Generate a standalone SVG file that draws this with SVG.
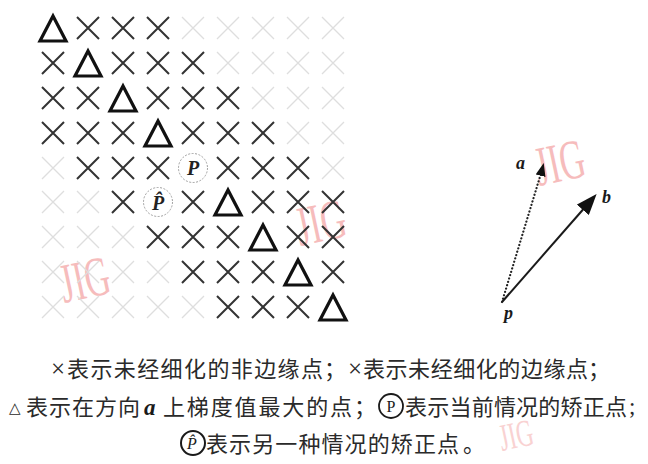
<svg xmlns="http://www.w3.org/2000/svg" width="648" height="464" viewBox="0 0 648 464">
<style>
.bg{fill:#ffffff}
.dx{stroke:#333;stroke-width:2;fill:none;stroke-linecap:butt}
.fx{stroke:#dedede;stroke-width:1.3;fill:none}
.tri{stroke:#111;stroke-width:3.2;fill:none;stroke-linejoin:miter}
.pc{stroke:#a0a0a0;stroke-width:1;fill:#fff;stroke-dasharray:2 1.5}
.pl{font-family:"Liberation Serif",serif;font-style:italic;font-weight:bold;font-size:20px;fill:#222;text-anchor:middle}
.wm{font-family:"Liberation Serif",serif;font-size:56px;fill:#f4a6a6;opacity:0.75}
.cap{font-family:"Liberation Serif","Noto Sans CJK SC",sans-serif;font-size:22px;fill:#2a2a2a}
.vl{font-family:"Liberation Serif",serif;font-style:italic;font-weight:bold;font-size:18px;fill:#1a1a1a}
.arw{stroke:#1a1a1a;stroke-width:2;fill:none}
.dot{stroke:#222;stroke-width:2.2;fill:none;stroke-dasharray:0.1 3.4;stroke-linecap:round}
</style>
<defs>
<path id="x" d="M-11,-11 L11,11 M11,-11 L-11,11"/>
<polygon id="t" points="0,-12.5 -13,12.5 13,12.5"/>
<marker id="hb" markerWidth="22" markerHeight="16" refX="17" refY="8" orient="auto" markerUnits="userSpaceOnUse"><path d="M0,0 L21,8 L0,16 Z" fill="#111"/></marker>
<marker id="ha" markerWidth="14" markerHeight="10" refX="10" refY="5" orient="auto" markerUnits="userSpaceOnUse"><path d="M0,0 L13,5 L0,10 Z" fill="#111"/></marker>
</defs>
<rect class="bg" x="0" y="0" width="648" height="464"/>

<!-- watermarks -->
<g id="watermarks">
<text class="wm" transform="translate(64,303) rotate(-12) scale(0.62,1)">JIG</text>
<text class="wm" transform="translate(300,246) rotate(-12) scale(0.62,1)">JIG</text>
<text class="wm" transform="translate(539,186) rotate(-12) scale(0.62,1)">JIG</text>
<text class="wm" transform="translate(502,451) rotate(-12) scale(0.62,1)" style="font-size:38px;opacity:0.5">JIG</text>
</g>

<!-- faint (edge) crosses -->
<g id="faint-crosses" class="fx">
<use href="#x" x="193" y="28"/><use href="#x" x="228" y="28"/><use href="#x" x="263" y="28"/><use href="#x" x="298" y="28"/><use href="#x" x="333" y="28"/>
<use href="#x" x="228" y="63"/><use href="#x" x="263" y="63"/><use href="#x" x="298" y="63"/><use href="#x" x="333" y="63"/>
<use href="#x" x="263" y="98"/><use href="#x" x="298" y="98"/><use href="#x" x="333" y="98"/>
<use href="#x" x="298" y="133"/><use href="#x" x="333" y="133"/>
<use href="#x" x="53" y="168"/><use href="#x" x="333" y="168"/>
<use href="#x" x="53" y="202"/><use href="#x" x="88" y="202"/>
<use href="#x" x="53" y="237"/><use href="#x" x="88" y="237"/><use href="#x" x="123" y="237"/>
<use href="#x" x="53" y="272"/><use href="#x" x="88" y="272"/><use href="#x" x="123" y="272"/><use href="#x" x="158" y="272"/>
<use href="#x" x="53" y="307"/><use href="#x" x="88" y="307"/><use href="#x" x="123" y="307"/><use href="#x" x="158" y="307"/><use href="#x" x="193" y="307"/>
</g>

<!-- dark (non-edge) crosses -->
<g id="dark-crosses" class="dx">
<use href="#x" x="88" y="28"/><use href="#x" x="123" y="28"/><use href="#x" x="158" y="28"/>
<use href="#x" x="53" y="63"/><use href="#x" x="123" y="63"/><use href="#x" x="158" y="63"/><use href="#x" x="193" y="63"/>
<use href="#x" x="53" y="98"/><use href="#x" x="88" y="98"/><use href="#x" x="158" y="98"/><use href="#x" x="193" y="98"/><use href="#x" x="228" y="98"/>
<use href="#x" x="53" y="133"/><use href="#x" x="88" y="133"/><use href="#x" x="123" y="133"/><use href="#x" x="193" y="133"/><use href="#x" x="228" y="133"/><use href="#x" x="263" y="133"/>
<use href="#x" x="88" y="168"/><use href="#x" x="123" y="168"/><use href="#x" x="158" y="168"/><use href="#x" x="228" y="168"/><use href="#x" x="263" y="168"/><use href="#x" x="298" y="168"/>
<use href="#x" x="123" y="202"/><use href="#x" x="193" y="202"/><use href="#x" x="263" y="202"/><use href="#x" x="298" y="202"/><use href="#x" x="333" y="202"/>
<use href="#x" x="158" y="237"/><use href="#x" x="193" y="237"/><use href="#x" x="228" y="237"/><use href="#x" x="298" y="237"/><use href="#x" x="333" y="237"/>
<use href="#x" x="193" y="272"/><use href="#x" x="228" y="272"/><use href="#x" x="263" y="272"/><use href="#x" x="333" y="272"/>
<use href="#x" x="228" y="307"/><use href="#x" x="263" y="307"/><use href="#x" x="298" y="307"/>
</g>

<!-- triangles: max gradient along a -->
<g id="triangles" class="tri">
<use href="#t" x="53" y="28.5"/>
<use href="#t" x="88" y="63.5"/>
<use href="#t" x="123" y="98.5"/>
<use href="#t" x="158" y="133.5"/>
<use href="#t" x="228" y="202.5"/>
<use href="#t" x="263" y="237.5"/>
<use href="#t" x="298" y="272.5"/>
<use href="#t" x="333" y="307.5"/>
</g>

<!-- correction points -->
<g id="node-P">
<circle class="pc" cx="193" cy="168" r="14.5"/>
<text class="pl" x="193" y="175">P</text>
</g>
<g id="node-Phat">
<circle class="pc" cx="158" cy="202" r="14.5"/>
<text class="pl" x="158" y="210">P̂</text>
</g>

<!-- vectors -->
<g id="connectors">
<line class="dot" x1="502" y1="302" x2="542" y2="170"/>
<line x1="542" y1="170" x2="543" y2="166" class="arw" style="stroke-width:1" marker-end="url(#ha)"/>
<line class="arw" x1="502" y1="302" x2="594" y2="197" marker-end="url(#hb)"/>
</g>
<g id="label-a"><text class="vl" x="516" y="169">a</text></g>
<g id="label-b"><text class="vl" x="602" y="203">b</text></g>
<g id="label-p"><text class="vl" x="504" y="319">p</text></g>

<!-- caption -->
<g id="caption">
<text class="cap" x="51" y="377" style="font-size:25px">×</text>
<text class="cap" x="67" y="377" textLength="256" lengthAdjust="spacing">表示未经细化的非边缘点</text>
<text class="cap" x="324" y="377">；</text>
<text class="cap" x="348" y="377" style="font-size:25px">×</text>
<text class="cap" x="363" y="377" textLength="225" lengthAdjust="spacing">表示未经细化的边缘点</text>
<text class="cap" x="588" y="377">；</text>

<text class="cap" x="9" y="413" style="font-family:'DejaVu Sans',sans-serif;font-size:15px">△</text>
<text class="cap" x="26" y="415" textLength="114" lengthAdjust="spacing">表示在方向</text>
<text x="144" y="415" style="font-family:'Liberation Serif',serif;font-style:italic;font-weight:bold;font-size:23px;fill:#1a1a1a">a</text>
<text class="cap" x="163" y="415" textLength="189" lengthAdjust="spacing">上梯度值最大的点</text>
<text class="cap" x="354" y="415">；</text>
<circle cx="391" cy="406" r="12" fill="none" stroke="#1a1a1a" stroke-width="1.8"/>
<text x="391" y="412" style="font-family:'Liberation Serif',serif;font-size:16px;fill:#1a1a1a;text-anchor:middle">P</text>
<text class="cap" x="405" y="415" textLength="222" lengthAdjust="spacing">表示当前情况的矫正点</text>
<text x="629" y="414" style="font-family:'Liberation Serif',serif;font-size:23px;fill:#2a2a2a">;</text>

<circle cx="193" cy="443" r="12" fill="none" stroke="#1a1a1a" stroke-width="2"/>
<text x="192" y="449" style="font-family:'Liberation Serif',serif;font-style:italic;font-size:16px;fill:#1a1a1a;text-anchor:middle">P̂</text>
<text class="cap" x="206" y="452" textLength="253" lengthAdjust="spacing">表示另一种情况的矫正点</text>
<text class="cap" x="463" y="452">。</text>
</g>
</svg>
